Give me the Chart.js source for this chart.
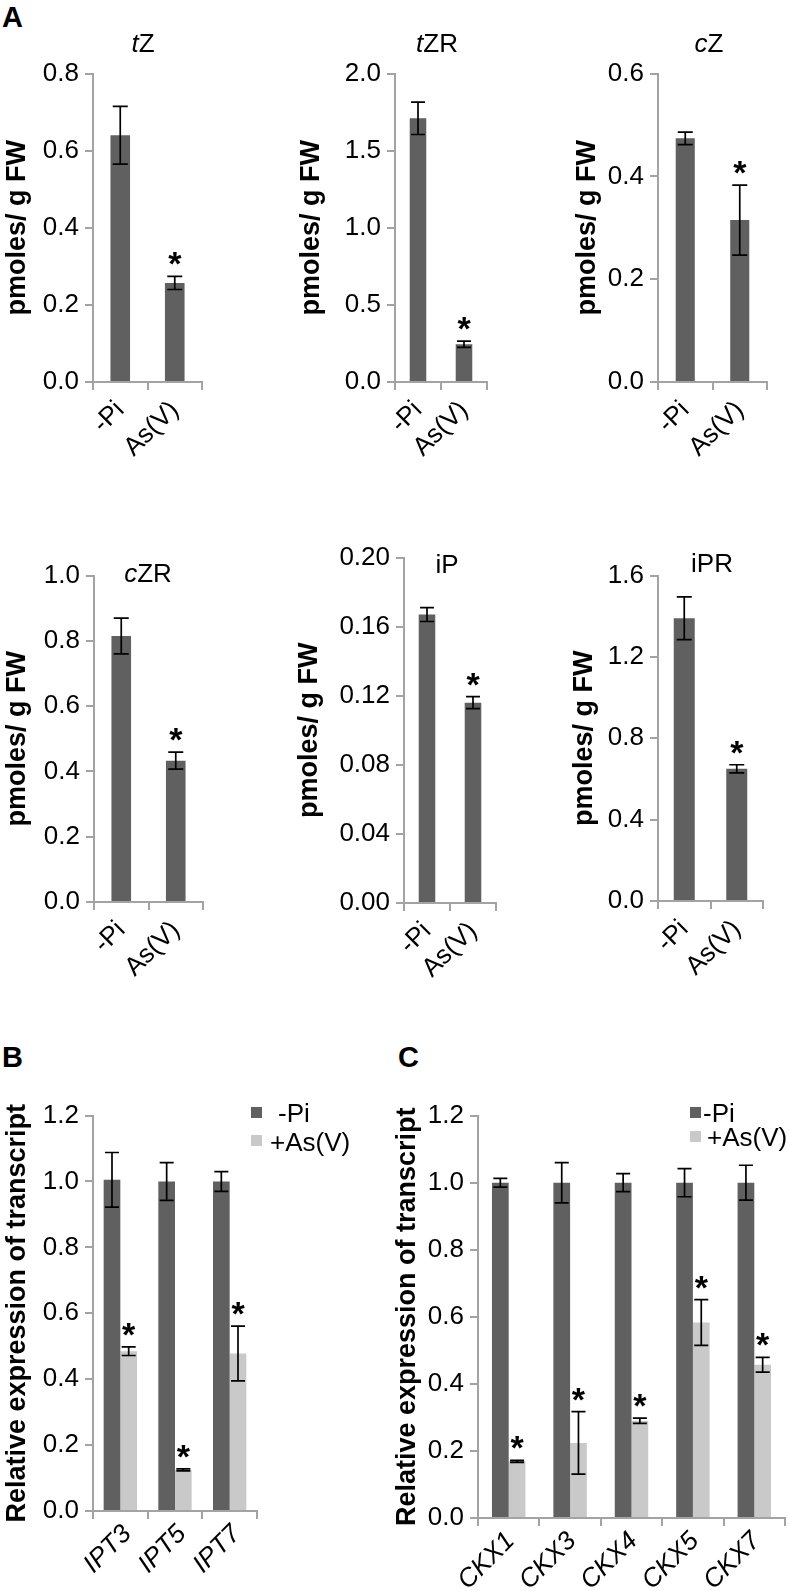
<!DOCTYPE html>
<html>
<head>
<meta charset="utf-8">
<script src="https://cdn.jsdelivr.net/npm/chart.js@4.4.0/dist/chart.umd.min.js"></script>
<style>
  body { margin: 0; background: #fff; }
  #fig { position: relative; width: 789px; height: 1591px; overflow: hidden;
         font-family: 'Liberation Sans', Arial, sans-serif; color: #000; }
  #fig canvas { position: absolute; }
  .letter { position: absolute; font-weight: bold; font-size: 29px; line-height: 1; }
  .ttl { position: absolute; font-size: 26px; line-height: 1; white-space: nowrap;
         transform: translate(-50%, -50%); }
  .sq { position: absolute; width: 11px; height: 11px; }
  .lg { position: absolute; font-size: 26px; line-height: 1; white-space: nowrap;
        transform: translateY(-50%); }
</style>
</head>
<body>
<div id="fig"></div>
<script>
// ---- data ----
const treatments = ["-Pi", "As(V)"];

const tZ = [0.64, 0.257],    tZErr = [0.075, 0.017];
const tZR = [1.71, 0.245],   tZRErr = [0.105, 0.02];
const cZ = [0.474, 0.315],   cZErr = [0.012, 0.068];
const cZR = [0.815, 0.433],  cZRErr = [0.055, 0.026];
const iP = [0.167, 0.116],   iPErr = [0.004, 0.0035];
const iPR = [1.39, 0.65],    iPRErr = [0.105, 0.02];
const contentStars = [false, true];

const tZTicks  = ["0.0", "0.2", "0.4", "0.6", "0.8"];
const tZRTicks = ["0.0", "0.5", "1.0", "1.5", "2.0"];
const cZTicks  = ["0.0", "0.2", "0.4", "0.6"];
const cZRTicks = ["0.0", "0.2", "0.4", "0.6", "0.8", "1.0"];
const iPTicks  = ["0.00", "0.04", "0.08", "0.12", "0.16", "0.20"];
const iPRTicks = ["0.0", "0.4", "0.8", "1.2", "1.6"];

const series = ["-Pi", "+As(V)"];
const iptGenes = ["IPT3", "IPT5", "IPT7"];
const iptPi = [1.005, 1.0, 1.0],     iptPiErr = [0.083, 0.057, 0.03];
const iptAs = [0.485, 0.125, 0.478], iptAsErr = [0.013, 0.003, 0.083];
const ckxGenes = ["CKX1", "CKX3", "CKX4", "CKX5", "CKX7"];
const ckxPi = [1.0, 1.0, 1.0, 1.0, 1.0],         ckxPiErr = [0.013, 0.06, 0.027, 0.042, 0.052];
const ckxAs = [0.169, 0.224, 0.29, 0.583, 0.457], ckxAsErr = [0.003, 0.093, 0.008, 0.068, 0.022];
const exprTicks = ["0.0", "0.2", "0.4", "0.6", "0.8", "1.0", "1.2"];

// ---- look ----
const DARK = '#606060', LIGHT = '#c9c9c9', AXIS = '#a3a3a3';
const PAD_TOP = 18, PAD_RIGHT = 14;
const fig = document.getElementById('fig');
Chart.defaults.font.family = "'Liberation Sans', Arial, sans-serif";
Chart.defaults.color = '#000';

// error bars + significance stars
const errorBars = {
  id: 'errorBars',
  afterDatasetsDraw(chart) {
    const ctx = chart.ctx, y = chart.scales.y;
    ctx.save();
    chart.data.datasets.forEach((ds, i) => {
      chart.getDatasetMeta(i).data.forEach((bar, j) => {
        const v = ds.data[j], e = ds.errors[j];
        const yt = y.getPixelForValue(v + e), yb = y.getPixelForValue(v - e);
        const half = Math.min(7.5, bar.width * 0.42);
        ctx.strokeStyle = '#000';
        ctx.lineWidth = 1.7;
        ctx.beginPath();
        ctx.moveTo(bar.x, yt); ctx.lineTo(bar.x, yb);
        ctx.moveTo(bar.x - half, yt); ctx.lineTo(bar.x + half, yt);
        ctx.moveTo(bar.x - half, yb); ctx.lineTo(bar.x + half, yb);
        ctx.stroke();
        if (ds.stars && ds.stars[j]) {
          ctx.font = "bold 34px 'Liberation Sans', Arial, sans-serif";
          ctx.fillStyle = '#000';
          ctx.textAlign = 'center';
          ctx.textBaseline = 'alphabetic';
          const m = ctx.measureText('*');
          ctx.fillText('*', bar.x, yt - 11 - m.actualBoundingBoxDescent);
        }
      });
    });
    ctx.restore();
  }
};

function makeChart(c) {
  const left = Math.round(c.ax - c.yW), top = Math.round(c.y0 - PAD_TOP);
  const cv = document.createElement('canvas');
  cv.width = Math.round(c.x1 + PAD_RIGHT - left);
  cv.height = Math.round(c.y1 + c.xH - top);
  cv.style.left = left + 'px';
  cv.style.top = top + 'px';
  fig.appendChild(cv);
  const tickVals = c.ticks.map(Number);
  new Chart(cv, {
    type: 'bar',
    data: { labels: c.labels, datasets: c.datasets },
    options: {
      responsive: false,
      animation: false,
      layout: { padding: { top: PAD_TOP, right: PAD_RIGHT, left: 0, bottom: 0 } },
      datasets: { bar: { categoryPercentage: c.cat, barPercentage: c.bar, borderWidth: 0 } },
      plugins: { legend: { display: false }, tooltip: { enabled: false } },
      scales: {
        x: {
          grid: { drawOnChartArea: false, tickLength: 8, color: AXIS, lineWidth: 2 },
          border: { color: AXIS, width: 2 },
          ticks: { color: '#000', font: { size: 26, style: c.italic ? 'italic' : 'normal' },
                   minRotation: 45, maxRotation: 45, autoSkip: false,
                   padding: c.xPad ?? 5, labelOffset: c.xOff ?? 0 },
          afterFit: s => { s.height = c.xH; }
        },
        y: {
          min: tickVals[0],
          max: tickVals[tickVals.length - 1],
          afterBuildTicks: s => { s.ticks = tickVals.map(v => ({ value: v })); },
          grid: { drawOnChartArea: false, tickLength: 8, color: AXIS, lineWidth: 2 },
          border: { color: AXIS, width: 2 },
          ticks: { color: '#000', font: { size: 26 }, padding: 6,
                   callback: (v, i) => c.ticks[i] },
          title: { display: true, text: c.yTitle, color: '#000',
                   font: { size: 27, weight: 'bold' }, padding: { top: 1, bottom: 0 } },
          afterFit: s => { s.width = c.yW; }
        }
      }
    },
    plugins: [errorBars]
  });
}

function single(values, errors) {
  return [{ label: 'content', data: values, errors: errors, stars: contentStars,
            backgroundColor: DARK }];
}

const yA = 'pmoles/ g FW', yB = 'Relative expression of transcript';

// panel A
makeChart({ ax: 93,  x1: 202, y0: 70,  y1: 382, yW: 93,  xH: 82, cat: 1, bar: 0.36,
            labels: treatments, ticks: tZTicks, yTitle: yA, datasets: single(tZ, tZErr) });
makeChart({ ax: 395, x1: 487, y0: 70,  y1: 382, yW: 101, xH: 82, cat: 1, bar: 0.36,
            labels: treatments, ticks: tZRTicks, yTitle: yA, datasets: single(tZR, tZRErr) });
makeChart({ ax: 658, x1: 767, y0: 70,  y1: 382, yW: 88,  xH: 82, cat: 1, bar: 0.35,
            labels: treatments, ticks: cZTicks, yTitle: yA, datasets: single(cZ, cZErr) });
makeChart({ ax: 94,  x1: 203, y0: 572, y1: 902, yW: 94,  xH: 82, cat: 1, bar: 0.36,
            labels: treatments, ticks: cZRTicks, yTitle: yA, datasets: single(cZR, cZRErr) });
makeChart({ ax: 404, x1: 496, y0: 554, y1: 903, yW: 112, xH: 82, cat: 1, bar: 0.36,
            labels: treatments, ticks: iPTicks, yTitle: yA, datasets: single(iP, iPErr) });
makeChart({ ax: 658, x1: 763, y0: 572, y1: 901, yW: 91,  xH: 82, cat: 1, bar: 0.4,
            labels: treatments, ticks: iPRTicks, yTitle: yA, datasets: single(iPR, iPRErr) });

// panel B
makeChart({ ax: 93, x1: 257, y0: 1112, y1: 1511, yW: 93, xH: 80, cat: 0.61, bar: 1, italic: true,
            xPad: 0, xOff: 7,
            labels: iptGenes, ticks: exprTicks, yTitle: yB, datasets: [
              { label: series[0], data: iptPi, errors: iptPiErr, backgroundColor: DARK },
              { label: series[1], data: iptAs, errors: iptAsErr, stars: iptAs.map(() => true),
                backgroundColor: LIGHT }] });

// panel C
makeChart({ ax: 478, x1: 785, y0: 1112, y1: 1518, yW: 88, xH: 73, cat: 0.545, bar: 1, italic: true,
            xPad: 0, xOff: 2,
            labels: ckxGenes, ticks: exprTicks, yTitle: yB, datasets: [
              { label: series[0], data: ckxPi, errors: ckxPiErr, backgroundColor: DARK },
              { label: series[1], data: ckxAs, errors: ckxAsErr, stars: ckxAs.map(() => true),
                backgroundColor: LIGHT }] });

// letters, titles, legends
function addText(cls, html, x, y) {
  const d = document.createElement('div');
  d.className = cls;
  d.innerHTML = html;
  d.style.left = x + 'px';
  d.style.top = y + 'px';
  fig.appendChild(d);
}
addText('letter', 'A', 2, 3);
addText('letter', 'B', 2, 1043);
addText('letter', 'C', 398, 1043);

addText('ttl', '<i>t</i>Z', 143, 43);
addText('ttl', '<i>t</i>ZR', 437, 43);
addText('ttl', '<i>c</i>Z', 709, 43);
addText('ttl', '<i>c</i>ZR', 148, 573);
addText('ttl', 'iP', 447, 564);
addText('ttl', 'iPR', 712, 563);

function legend(sqX, textX, ys) {
  series.forEach((name, i) => {
    const s = document.createElement('div');
    s.className = 'sq';
    s.style.left = sqX + 'px';
    s.style.top = (ys[i] - 5.5) + 'px';
    s.style.background = i === 0 ? DARK : LIGHT;
    fig.appendChild(s);
    addText('lg', name, textX[i], ys[i] + 1);
  });
}
legend(251, [278, 270], [1112, 1140.5]);
legend(690, [703, 707], [1112, 1136]);
</script>
</body>
</html>
